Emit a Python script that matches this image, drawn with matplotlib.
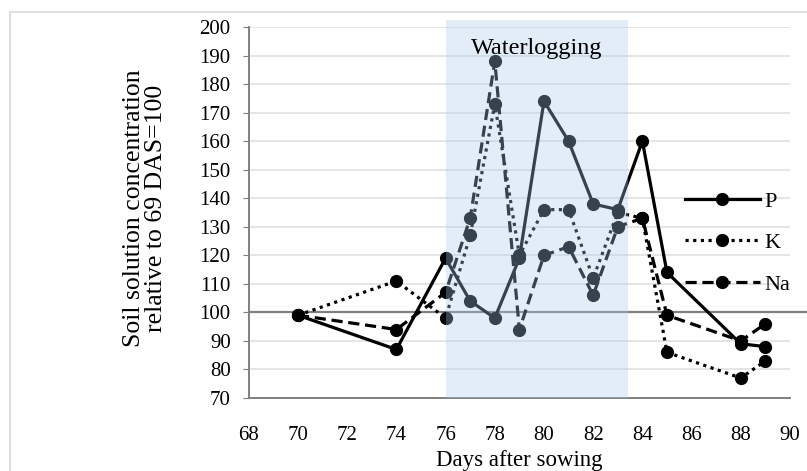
import matplotlib
matplotlib.use('Agg')
import matplotlib.pyplot as plt
from matplotlib.patches import Rectangle

plt.rcParams['font.family'] = ['Liberation Serif', 'DejaVu Serif']

# Data
days = [70, 74, 76, 77, 78, 79, 80, 81, 82, 83, 84, 85, 88, 89]
p_vals = [99, 87, 119, 104, 98, 119, 174, 160, 138, 136, 160, 114, 89, 88]
k_vals = [99, 111, 98, 127, 173, 120, 136, 136, 112, 135, 133, 86, 77, 83]
na_vals = [99, 94, 107, 133, 188, 94, 120, 123, 106, 130, 133, 99, 90, 96]
yticks = list(range(70, 201, 10))
xticks = list(range(68, 91, 2))
flood_start, flood_end = 76, 83.4

fig = plt.figure(figsize=(8.07, 4.71), dpi=100)
ax = fig.add_axes([0.3083, 0.155, 0.6706, 0.7877])

# light frame around the whole chart area
fig.patches.append(Rectangle((10 / 807, -0.1), 1.1, (471 - 12) / 471 + 0.1,
                             transform=fig.transFigure, fill=False,
                             edgecolor='#d9d9d9', lw=1.2))

ax.plot(days, p_vals, color='black', lw=2.3, ls='-', marker='o', ms=8.5, label='P')
ax.plot(days, k_vals, color='black', lw=2.3, ls=(0, (1, 1.4)), marker='o', ms=8.5, label='K')
ax.plot(days, na_vals, color='black', lw=2.3, ls=(0, (3.5, 1.8)), marker='o', ms=8.5, label='Na')

# shaded waterlogging period sits on top of the lines
ax.axvspan(flood_start, flood_end, ymin=0, ymax=1.02, color='#a7cbea', alpha=0.33,
           lw=0, zorder=5, clip_on=False)
ax.text((flood_start + flood_end) / 2, 192.5, 'Waterlogging', ha='center', va='center',
        fontsize=17.5, zorder=6)

ax.axhline(100, xmin=0, xmax=1.032, color='#808080', lw=1.6, clip_on=False, zorder=1)

ax.set_xlim(68, 90)
ax.set_ylim(70, 200)
ax.set_xticks(xticks)
ax.set_yticks(yticks)
ax.tick_params(axis='y', length=4, pad=9, labelsize=15, color='#808080')
ax.tick_params(axis='x', length=0, pad=20, labelsize=15)
ax.yaxis.grid(True, color='#e0e0e0', lw=1.2)
ax.set_axisbelow(True)
for s in ['top', 'right']:
    ax.spines[s].set_visible(False)
for s in ['left', 'bottom']:
    ax.spines[s].set_color('#808080')
    ax.spines[s].set_linewidth(1.4)

ax.set_xlabel('Days after sowing', fontsize=16.5, labelpad=4)
fig.text(145 / 807, 1 - 208 / 471,
         'Soil solution concentration\nrelative to 69 DAS=100',
         rotation=90, ha='center', va='center', fontsize=18.5,
         multialignment='center', linespacing=1.05)

ax.legend(loc='center left', bbox_to_anchor=(0.789, 0.418), frameon=False,
          fontsize=16, handlelength=3.4, labelspacing=0.95, borderaxespad=0,
          handletextpad=0.2)

fig.savefig('out.png', dpi=100)
